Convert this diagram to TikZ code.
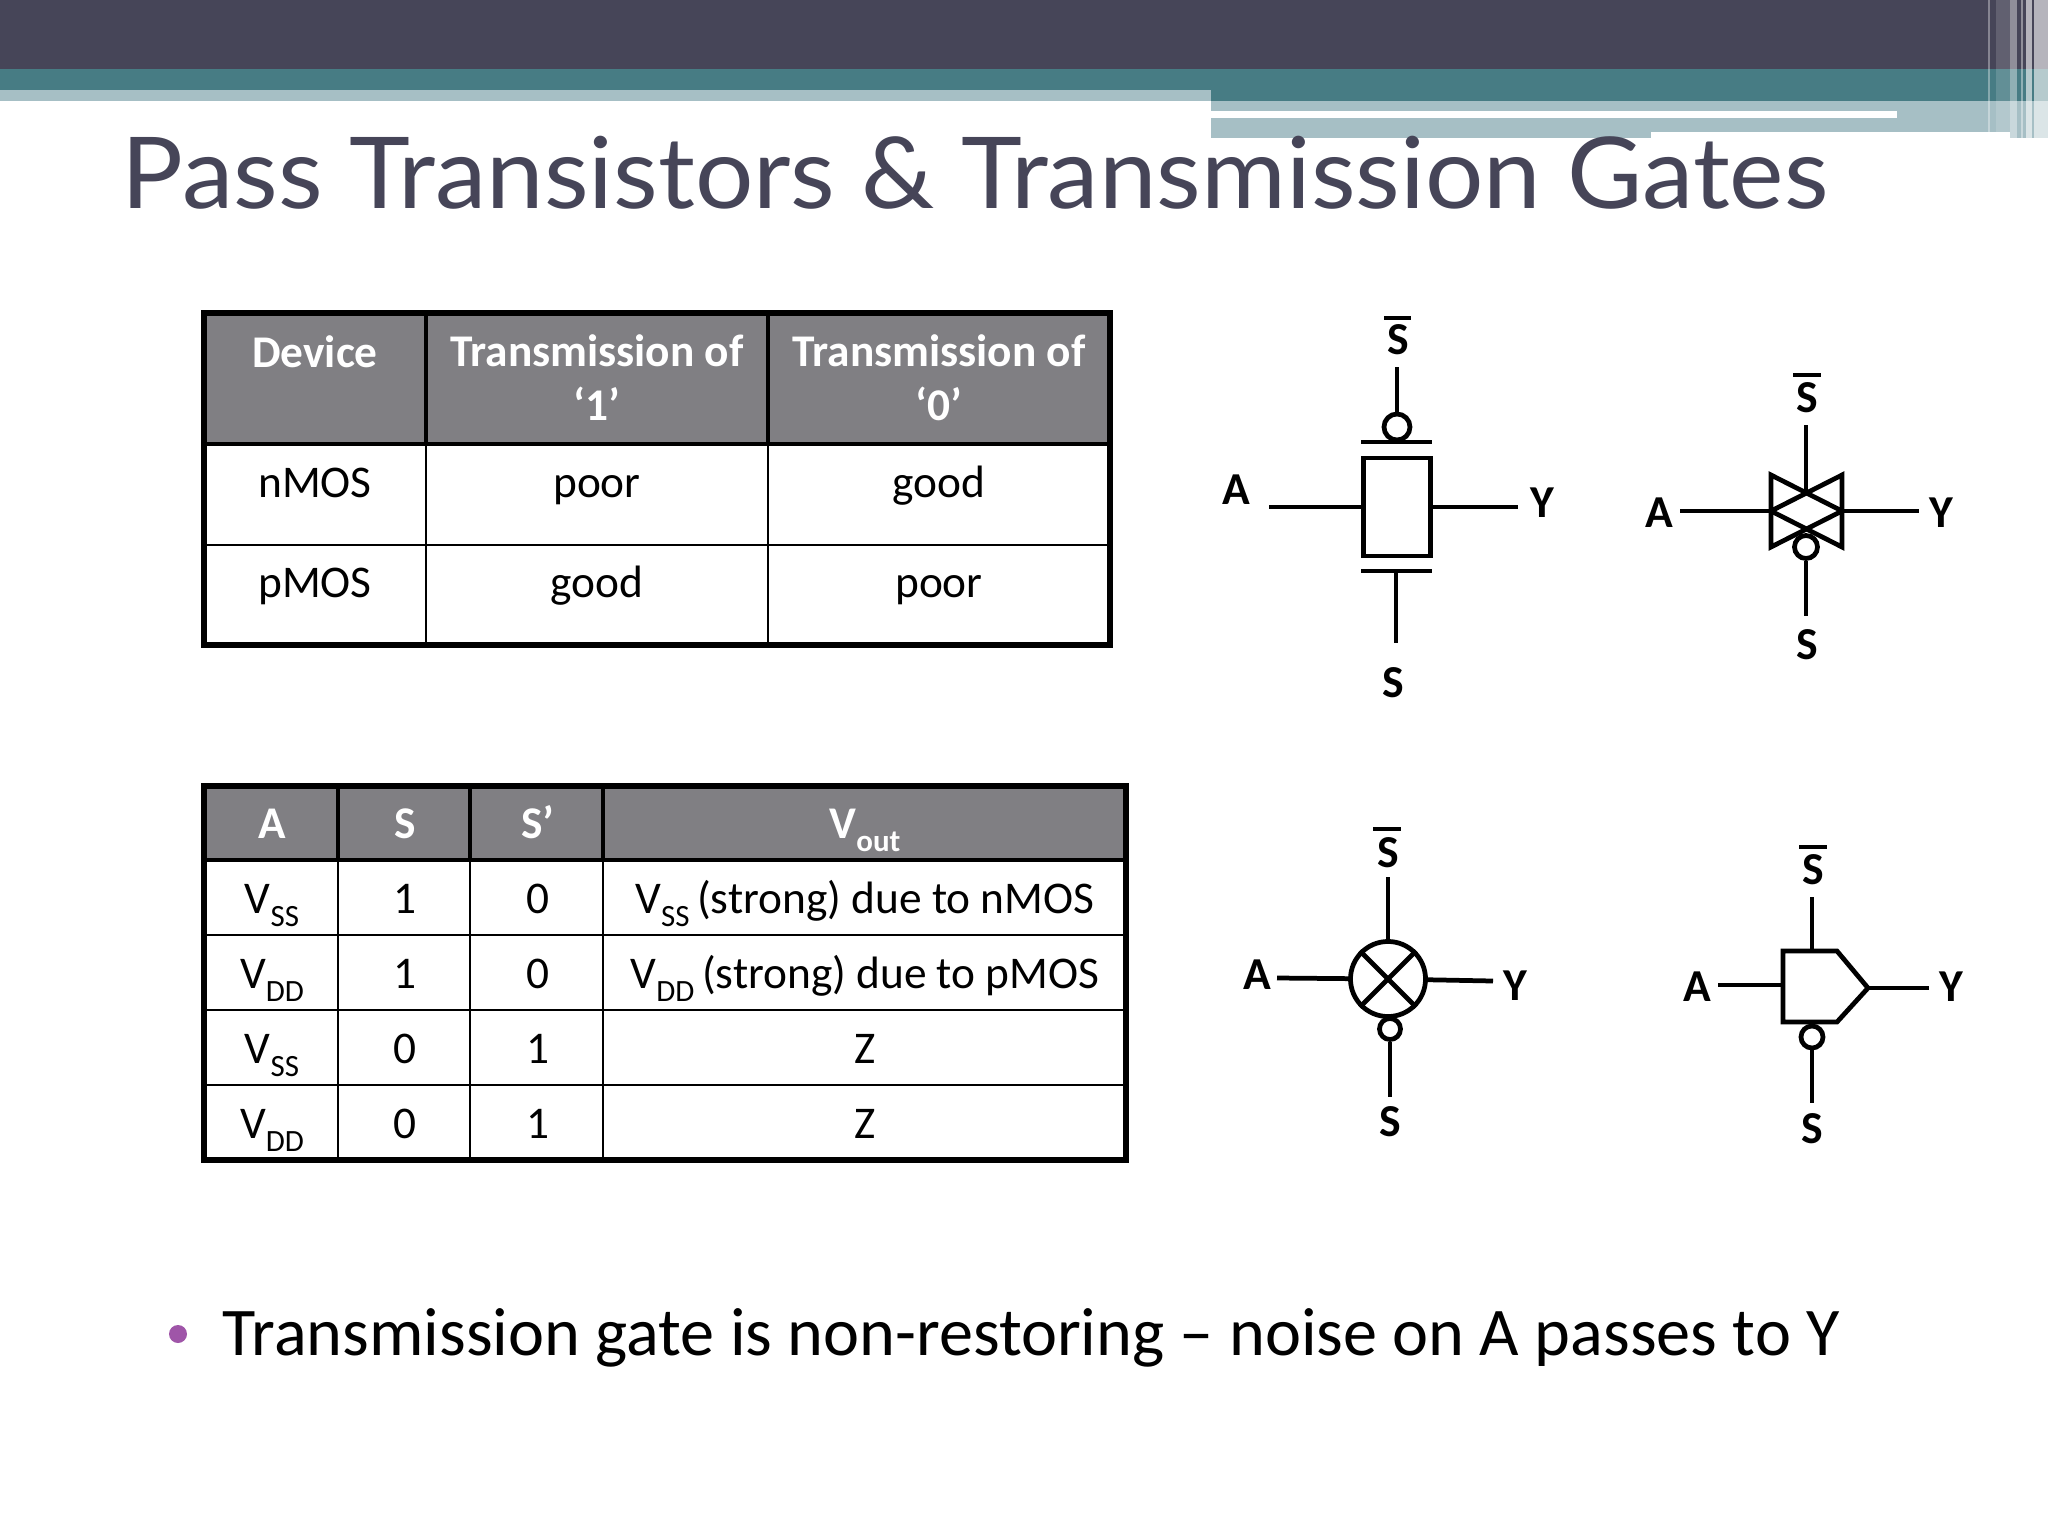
\documentclass[tikz,border=0pt]{standalone}
\usepackage{fontspec}
\usepackage{tikz}
\usetikzlibrary{positioning, calc}
\setmainfont{Carlito}
\newfontfamily\titlefont[FakeStretch=1.04]{Lato}
\definecolor{slatedark}{HTML}{464558}
\definecolor{tealband}{HTML}{477C84}
\definecolor{tealpale}{HTML}{A6BFC5}
\definecolor{cellgray}{HTML}{807F83}
\definecolor{bulletpurple}{HTML}{9F55A8}
\tikzset{
  wire/.style={line width=1.35pt},
  bubble/.style={circle, draw, line width=1.35pt, inner sep=0pt, fill=white},
  pinlabel/.style={font=\fontsize{13}{15}\selectfont\bfseries, inner sep=0pt},
  headcell/.style={font=\fontsize{12.9}{15.2}\selectfont\bfseries, white, align=center, anchor=base, inner sep=0pt},
  headrow/.style={font=\fontsize{12.9}{15.2}\selectfont\bfseries, white, anchor=base, inner sep=0pt},
  bodycell/.style={font=\fontsize{12.9}{15.2}\selectfont, anchor=base, inner sep=0pt},
}
\newcommand{\vsub}[1]{V\raisebox{-.13cm}{\fontsize{8.8}{9}\selectfont #1}}
\begin{document}
\begin{tikzpicture}[x=0.01cm, y=-0.01cm]
\useasboundingbox (0,0) rectangle (2048,1536);

% Top bands
\fill[slatedark] (0,0) rectangle (2048,69);
\fill[tealband] (0,69) rectangle (2048,101);
\fill[tealpale] (0,90) rectangle (1211,101);
\fill[tealpale] (1211,101) rectangle (2048,132);
\fill[tealpale] (1211,118) rectangle (1651,138);
\fill[white] (1211,111) rectangle (1897,118);
\fill[tealpale] (2010,132) rectangle (2048,138);

% Stripes on the right
\fill[white, opacity=.35] (1988,0) rectangle (1990,132);
\fill[white, opacity=.15] (1996,0) rectangle (2010,132);
\fill[white, opacity=.4] (2010,0) rectangle (2017,138);
\fill[white, opacity=.4] (2021,0) rectangle (2023,138);
\fill[white, opacity=.6] (2026,0) rectangle (2032,138);
\fill[white, opacity=.6] (2034,0) rectangle (2048,138);

% Title and bullet
\node[font=\titlefont\fontsize{28.2}{30}\selectfont, text=slatedark, anchor=base west, inner sep=0pt] (title) at (121,208) {Pass Transistors \& Transmission Gates};
\fill[bulletpurple] (178,1334) circle (9);
\node[font=\fontsize{19.4}{22}\selectfont, anchor=base west, inner sep=0pt] (bullet) at (222,1355) {Transmission gate is non-restoring -- noise on A passes to Y};

% Device table
\fill[cellgray] (204,313) rectangle (1110,444);
\draw[line width=1.1pt] (426,313) -- (426,444) (768,313) -- (768,444) (204,444) -- (1110,444);
\draw[line width=.6pt] (426,444) -- (426,645) (768,444) -- (768,645);
\draw[line width=.8pt] (204,545) -- (1110,545);
\draw[line width=1.6pt] (204,313) rectangle (1110,645);

\node[headcell] (devHead) at (315,367) {Device};
\node[headcell] (oneHead) at (597,420) {Transmission of\\‘1’};
\node[headcell] (zeroHead) at (939,420) {Transmission of\\‘0’};
\node[bodycell] (nmos) at (315,497) {nMOS};
\node[bodycell] (nOne) at (597,497) {poor};
\node[bodycell] (nZero) at (939,497) {good};
\node[bodycell] (pmos) at (315,597) {pMOS};
\node[bodycell] (pOne) at (597,597) {good};
\node[bodycell] (pZero) at (939,597) {poor};

% Switch table
\fill[cellgray] (204,786) rectangle (1126,860);
\draw[line width=1.1pt] (338,786) -- (338,860) (470,786) -- (470,860) (603,786) -- (603,860) (204,860) -- (1126,860);
\draw[line width=.6pt] (338,860) -- (338,1160) (470,860) -- (470,1160) (603,860) -- (603,1160);
\foreach \rowy in {935,1010,1085}
  \draw[line width=.8pt] (204,\rowy) -- (1126,\rowy);
\draw[line width=1.6pt] (204,786) rectangle (1126,1160);

\node[headrow] (colA) at (272,838) {A};
\node[headrow] (colS) at (405,838) {S};
\node[headrow] (colSn) at (538,838) {S’};
\node[headrow] (colV) at (865,838) {\vsub{\bfseries out}};

\node[bodycell] (a1) at (272,913) {\vsub{SS}};
\node[bodycell] (s1) at (405,913) {1};
\node[bodycell] (n1) at (538,913) {0};
\node[bodycell] (v1) at (865,913) {\vsub{SS}\,(strong) due to nMOS};
\node[bodycell] (a2) at (272,988) {\vsub{DD}};
\node[bodycell] (s2) at (405,988) {1};
\node[bodycell] (n2) at (538,988) {0};
\node[bodycell] (v2) at (865,988) {\vsub{DD}\,(strong) due to pMOS};
\node[bodycell] (a3) at (272,1063) {\vsub{SS}};
\node[bodycell] (s3) at (405,1063) {0};
\node[bodycell] (n3) at (538,1063) {1};
\node[bodycell] (v3) at (865,1063) {Z};
\node[bodycell] (a4) at (272,1138) {\vsub{DD}};
\node[bodycell] (s4) at (405,1138) {0};
\node[bodycell] (n4) at (538,1138) {1};
\node[bodycell] (v4) at (865,1138) {Z};

% Two transistors symbol
\node[draw, line width=1.35pt, minimum width=.67cm, minimum height=.98cm, inner sep=0pt] (mosBody) at (1397,507) {};
\node[bubble, minimum size=.26cm] (mosBub) at (1397,427) {};
\coordinate (mosTop) at (1397,367);
\coordinate (mosBot) at (1396,643);
\coordinate (mosIn) at (1269,507);
\coordinate (mosOut) at (1518,507);
\coordinate (mosGateB) at (1396,571);
\draw[wire] (mosTop) -- (mosBub);
\draw[wire] (mosGateB) -- (mosBot);
\draw[wire] (mosIn) -- (mosBody);
\draw[wire] (mosBody) -- (mosOut);
\draw[wire] (1361,442) -- (1432,442);
\draw[wire] (1361,571) -- (1432,571);
\node[pinlabel] (mosA) at (1236,490) {A};
\node[pinlabel] (mosY) at (1542,503) {Y};
\node[pinlabel] (mosS) at (1398,340) {S};
\draw[wire] (1384,318) -- (1411,318);
\node[pinlabel] (mosSb) at (1393,683) {S};

% Bowtie symbol
\draw[wire, line join=miter] (1771,475) -- (1771,547) -- (1842,511) -- cycle;
\draw[wire, line join=miter] (1842,475) -- (1842,547) -- (1771,511) -- cycle;
\node[bubble, minimum size=.23cm] (bowBub) at (1806,547) {};
\coordinate (bowTop) at (1806,425);
\coordinate (bowMid) at (1806,493);
\coordinate (bowBot) at (1806,616);
\coordinate (bowIn) at (1680,511);
\coordinate (bowL) at (1771,511);
\coordinate (bowR) at (1842,511);
\coordinate (bowOut) at (1919,511);
\draw[wire] (bowTop) -- (bowMid);
\draw[wire] (bowBub) -- (bowBot);
\draw[wire] (bowIn) -- (bowL);
\draw[wire] (bowR) -- (bowOut);
\node[pinlabel] (bowA) at (1659,513) {A};
\node[pinlabel] (bowY) at (1941,513) {Y};
\node[pinlabel] (bowS) at (1807,398) {S};
\draw[wire] (1793,375) -- (1821,375);
\node[pinlabel] (bowSb) at (1807,645) {S};

% Crossed circle symbol
\node[circle, draw, line width=1.35pt, minimum size=.75cm, inner sep=0pt, fill=white] (xorBody) at (1388,979) {};
\draw[wire] (xorBody.45) -- (xorBody.225);
\draw[wire] (xorBody.135) -- (xorBody.315);
\node[bubble, minimum size=.21cm] (xorBub) at (1390,1029) {};
\coordinate (xorTop) at (1388,877);
\coordinate (xorBot) at (1390,1097);
\coordinate (xorIn) at (1277,978);
\coordinate (xorOut) at (1493,981);
\draw[wire] (xorTop) -- (xorBody);
\draw[wire] (xorBub) -- (xorBot);
\draw[wire] (xorIn) -- (xorBody);
\draw[wire] (xorBody) -- (xorOut);
\node[pinlabel] (xorA) at (1257,975) {A};
\node[pinlabel] (xorY) at (1515,986) {Y};
\node[pinlabel] (xorS) at (1388,853) {S};
\draw[wire] (1373,829) -- (1401,829);
\node[pinlabel] (xorSb) at (1390,1122) {S};

% Pentagon symbol
\draw[wire, line join=miter] (1783,951) coordinate (penTL) -- (1837,951) -- (1868,988) coordinate (penTip) -- (1837,1022) -- (1783,1022) coordinate (penBL) -- cycle;
\node[bubble, minimum size=.22cm] (penBub) at (1812,1037) {};
\coordinate (penTop) at (1812,897);
\coordinate (penTopIn) at (1812,951);
\coordinate (penBot) at (1812,1103);
\coordinate (penIn) at (1718,985);
\coordinate (penInEnd) at (1783,985);
\coordinate (penOut) at (1929,988);
\draw[wire] (penTop) -- (penTopIn);
\draw[wire] (penBub) -- (penBot);
\draw[wire] (penIn) -- (penInEnd);
\draw[wire] (penTip) -- (penOut);
\node[pinlabel] (penA) at (1697,987) {A};
\node[pinlabel] (penY) at (1951,987) {Y};
\node[pinlabel] (penS) at (1813,870) {S};
\draw[wire] (1799,847) -- (1827,847);
\node[pinlabel] (penSb) at (1812,1129) {S};

\end{tikzpicture}
\end{document}
